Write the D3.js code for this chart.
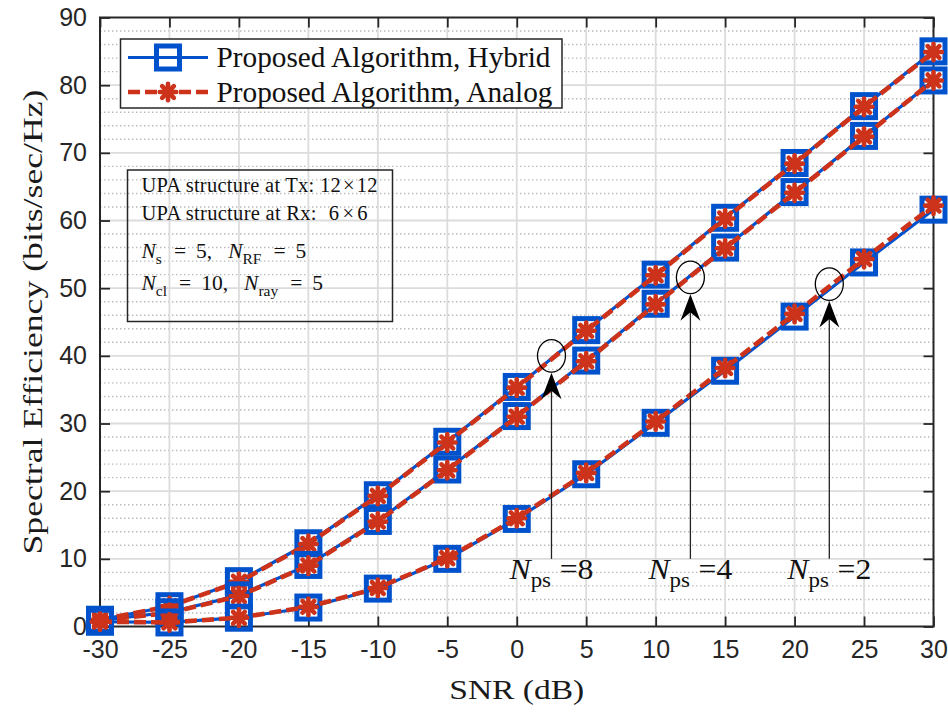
<!DOCTYPE html>
<html><head><meta charset="utf-8">
<script src="https://cdn.jsdelivr.net/npm/d3@7/dist/d3.min.js"></script>
<style>body{margin:0;background:#fff;} svg{display:block;}</style>
</head><body>
<svg id="chart" width="948" height="715"></svg>
<script>
// ---------------- data ----------------
const snr = [-30,-25,-20,-15,-10,-5,0,5,10,15,20,25,30];
const hybridNps8 = [1.0, 3.0, 6.7, 12.3, 19.4, 27.3, 35.4, 43.8, 52.0, 60.4, 68.5, 76.9, 85.0];
const analogNps8 = [1.0, 3.0, 6.6, 12.2, 19.3, 27.2, 35.3, 43.7, 51.9, 60.3, 68.4, 76.8, 84.9];
const hybridNps4 = [0.9, 2.1, 4.6, 9.1, 15.6, 23.2, 31.1, 39.3, 47.7, 56.0, 64.2, 72.5, 80.7];
const analogNps4 = [0.9, 2.0, 4.5, 9.0, 15.5, 23.1, 31.0, 39.2, 47.6, 55.9, 64.1, 72.4, 80.7];
const hybridNps2 = [0.7, 0.6, 1.3, 2.8, 5.6, 10.0, 15.9, 22.5, 30.1, 37.8, 45.8, 53.8, 61.6];
const analogNps2 = [0.7, 0.6, 1.3, 2.9, 5.7, 10.1, 16.0, 22.7, 30.3, 38.2, 46.2, 54.3, 62.2];
const xTicks = [-30,-25,-20,-15,-10,-5,0,5,10,15,20,25,30];
const yTicks = [0,10,20,30,40,50,60,70,80,90];
const legendLabels = ["Proposed Algorithm, Hybrid", "Proposed Algorithm, Analog"];
const xLabel = "SNR (dB)";
const yLabel = "Spectral Efficiency (bits/sec/Hz)";
const npsValues = [8, 4, 2];
const npsEllipseSnr = [2.5, 12.5, 22.5];
const npsEllipseSE = [40.0, 51.6, 50.6];

// ---------------- setup ----------------
const svg = d3.select("#chart");
const X0 = 100, X1 = 933.5, Y0 = 626.5, Y1 = 17.5;
const x = d3.scaleLinear().domain([-30, 30]).range([X0, X1]);
const y = d3.scaleLinear().domain([0, 90]).range([Y0, Y1]);
const BLUE = "#0052cc", RED = "#cc331a", AX = "#262626";
const SERIF = "'Liberation Serif','Times New Roman',serif";
const SANS = "'Liberation Sans',Arial,Helvetica,sans-serif";

// grid
const g = svg.append("g");
const minorY = d3.range(0, 91, 2).filter(v => v % 10 !== 0);
g.selectAll(".minor").data(minorY).join("line")
  .attr("x1", X0).attr("x2", X1).attr("y1", d => y(d)).attr("y2", d => y(d))
  .attr("stroke", "#b9b9b9").attr("stroke-width", 1.4).attr("stroke-dasharray", "1.4,2.6");
g.selectAll(".majx").data(xTicks.slice(1, -1)).join("line")
  .attr("x1", d => x(d)).attr("x2", d => x(d)).attr("y1", Y0).attr("y2", Y1)
  .attr("stroke", "#dcdcdc").attr("stroke-width", 1.8);
g.selectAll(".majy").data(yTicks.slice(1, -1)).join("line")
  .attr("x1", X0).attr("x2", X1).attr("y1", d => y(d)).attr("y2", d => y(d))
  .attr("stroke", "#dcdcdc").attr("stroke-width", 1.8);

// axes
function styleAxis(sel) {
  sel.select(".domain").remove();
  sel.selectAll(".tick line").attr("stroke", AX).attr("stroke-width", 1.8);
  sel.selectAll(".tick text").attr("fill", AX).style("font-family", SANS).style("font-size", "25px");
}
svg.append("g").attr("transform", `translate(0,${Y0})`)
  .call(d3.axisBottom(x).tickValues(xTicks).tickSize(-10).tickPadding(14).tickFormat(d => String(d)))
  .call(styleAxis);
svg.append("g").attr("transform", `translate(${X0},0)`)
  .call(d3.axisLeft(y).tickValues(yTicks).tickSize(-10).tickPadding(13).tickFormat(d => String(d)))
  .call(styleAxis);
svg.append("g").attr("transform", `translate(0,${Y1})`)
  .call(d3.axisTop(x).tickValues(xTicks).tickSize(-10).tickFormat(""))
  .call(styleAxis);
svg.append("g").attr("transform", `translate(${X1},0)`)
  .call(d3.axisRight(y).tickValues(yTicks).tickSize(-10).tickFormat(""))
  .call(styleAxis);
svg.append("rect").attr("x", X0).attr("y", Y1).attr("width", X1 - X0).attr("height", Y0 - Y1)
  .attr("fill", "none").attr("stroke", AX).attr("stroke-width", 2);

// axis labels
svg.append("text").attr("x", (X0 + X1) / 2).attr("y", 699).attr("text-anchor", "middle")
  .attr("textLength", 135).attr("lengthAdjust", "spacingAndGlyphs")
  .style("font-family", SERIF).style("font-size", "28px").attr("fill", "#1a1a1a").text(xLabel);
svg.append("text").attr("transform", `translate(42,${(Y0 + Y1) / 2}) rotate(-90)`).attr("text-anchor", "middle")
  .attr("textLength", 465).attr("lengthAdjust", "spacingAndGlyphs")
  .style("font-family", SERIF).style("font-size", "28px").attr("fill", "#1a1a1a").text(yLabel);

// markers
function square(sel, cx, cy) {
  sel.append("rect").attr("x", cx - 11.5).attr("y", cy - 11.5).attr("width", 23).attr("height", 23)
    .attr("fill", "none").attr("stroke", BLUE).attr("stroke-width", 5);
}
function star(sel, cx, cy) {
  const r = 8.3;
  const gg = sel.append("g").attr("transform", `translate(${cx},${cy})`);
  [0, 45, 90, 135].forEach(a => {
    const t = a * Math.PI / 180;
    gg.append("line").attr("x1", -r * Math.cos(t)).attr("y1", -r * Math.sin(t))
      .attr("x2", r * Math.cos(t)).attr("y2", r * Math.sin(t))
      .attr("stroke", RED).attr("stroke-width", 4.6).attr("stroke-linecap", "round");
  });
  gg.append("circle").attr("r", 5.5).attr("fill", RED);
}

const line = d3.line().x(d => x(d[0])).y(d => y(d[1]));
const pairs = [[hybridNps8, analogNps8], [hybridNps4, analogNps4], [hybridNps2, analogNps2]];
const dg = svg.append("g");
pairs.forEach(([h, a]) => {
  const hd = snr.map((s, i) => [s, h[i]]);
  const ad = snr.map((s, i) => [s, a[i]]);
  dg.append("path").attr("d", line(hd)).attr("fill", "none").attr("stroke", BLUE).attr("stroke-width", 3.2);
  hd.forEach(d => square(dg, x(d[0]), y(d[1])));
  dg.append("path").attr("d", line(ad)).attr("fill", "none").attr("stroke", RED).attr("stroke-width", 4.6)
    .attr("stroke-dasharray", "12,5");
  ad.forEach(d => star(dg, x(d[0]), y(d[1])));
});

// rich text helper: segments {t, it, sub, dx}
function richText(sel, xx, yy, segs, size, opts = {}) {
  const t = sel.append("text").attr("x", xx).attr("y", yy)
    .style("font-family", SERIF).style("font-size", size + "px").attr("fill", "#111");
  if (opts.anchor) t.attr("text-anchor", opts.anchor);
  if (opts.len) t.attr("textLength", opts.len).attr("lengthAdjust", opts.adjust || "spacing");
  let shifted = false;
  const subShift = Math.round(size * 0.27);
  segs.forEach(s => {
    const ts = t.append("tspan").text(s.t);
    let dy = 0;
    if (s.sub && !shifted) { dy = subShift; shifted = true; }
    if (!s.sub && shifted) { dy = -subShift; shifted = false; }
    if (dy) ts.attr("dy", dy);
    if (s.dx) ts.attr("dx", s.dx);
    if (s.sub) ts.style("font-size", (size * 0.72) + "px");
    if (s.it) ts.style("font-style", "italic");
  });
  return t;
}

// annotations (ellipses + arrows)
const ag = svg.append("g");
npsValues.forEach((n, i) => {
  const cx = x(npsEllipseSnr[i]), cy = y(npsEllipseSE[i]);
  const ry = 16.3, rx = 14;
  ag.append("ellipse").attr("cx", cx).attr("cy", cy).attr("rx", rx).attr("ry", ry)
    .attr("fill", "none").attr("stroke", "#000").attr("stroke-width", 1.3);
  const tip = cy + ry + 0.5;
  ag.append("line").attr("x1", cx).attr("x2", cx).attr("y1", tip + 15).attr("y2", y(10))
    .attr("stroke", "#222").attr("stroke-width", 1.3);
  ag.append("path").attr("d", `M${cx},${tip} L${cx + 10},${tip + 26.5} L${cx},${tip + 18} L${cx - 10},${tip + 26.5} Z`)
    .attr("fill", "#000");
  richText(ag, cx, y(7), [{t: "N", it: true}, {t: "ps", sub: true}, {t: "=" + n, dx: 8}], 29,
    {anchor: "middle", len: 84, adjust: "spacingAndGlyphs"});
});

// info box
const box = svg.append("g");
box.append("rect").attr("x", 127.5).attr("y", 170).attr("width", 265).attr("height", 151.5)
  .attr("fill", "none").attr("stroke", AX).attr("stroke-width", 1.5);
richText(box, 141.5, 191.5, [{t: "UPA structure at Tx: 12"}, {t: "\u00d7", dx: 2}, {t: "12", dx: 2}], 20.5, {len: 236});
richText(box, 141.5, 220, [{t: "UPA structure at Rx:"}, {t: "6", dx: 12}, {t: "\u00d7", dx: 3}, {t: "6", dx: 3}], 20.5, {len: 226});
richText(box, 141.5, 258, [{t: "N", it: true}, {t: "s", sub: true}, {t: "=", dx: 12}, {t: "5,", dx: 10},
  {t: "N", it: true, dx: 16}, {t: "RF", sub: true}, {t: "=", dx: 12}, {t: "5", dx: 10}], 21.5);
richText(box, 141.5, 289.5, [{t: "N", it: true}, {t: "cl", sub: true}, {t: "=", dx: 12}, {t: "10,", dx: 10},
  {t: "N", it: true, dx: 16}, {t: "ray", sub: true}, {t: "=", dx: 12}, {t: "5", dx: 10}], 21.5);

// legend
const lg = svg.append("g");
lg.append("rect").attr("x", 120.5).attr("y", 39).attr("width", 441.5).attr("height", 69)
  .attr("fill", "#fff").attr("stroke", AX).attr("stroke-width", 1.5);
const rowY = [57.5, 92];
lg.append("line").attr("x1", 128).attr("x2", 208).attr("y1", rowY[0]).attr("y2", rowY[0])
  .attr("stroke", BLUE).attr("stroke-width", 3.2);
square(lg, 168, rowY[0]);
lg.append("line").attr("x1", 128).attr("x2", 208).attr("y1", rowY[1]).attr("y2", rowY[1])
  .attr("stroke", RED).attr("stroke-width", 4.6).attr("stroke-dasharray", "12,5");
star(lg, 168, rowY[1]);
const legendLens = [334, 336];
legendLabels.forEach((l, i) => {
  lg.append("text").attr("x", 216.5).attr("y", rowY[i] + 9.5)
    .attr("textLength", legendLens[i]).attr("lengthAdjust", "spacingAndGlyphs")
    .style("font-family", SERIF).style("font-size", "28.5px").attr("fill", "#111").text(l);
});
</script>
</body></html>
